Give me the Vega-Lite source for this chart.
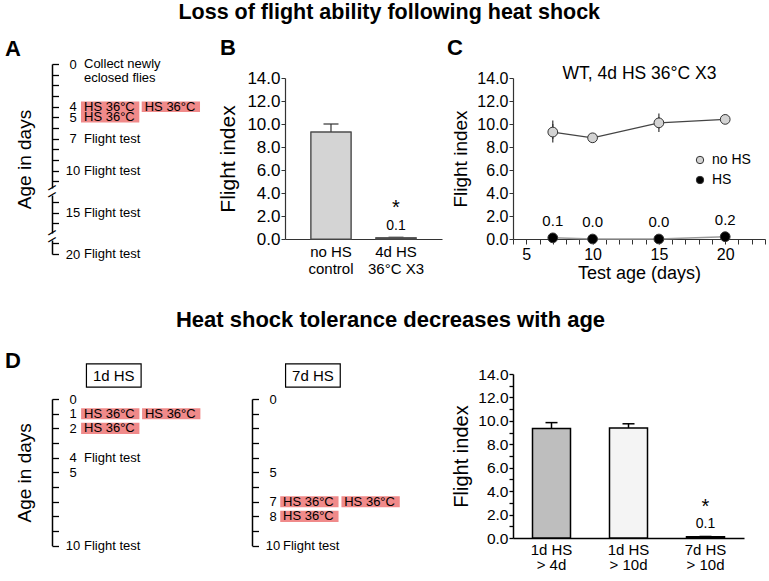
{
  "$schema": "https://vega.github.io/schema/vega-lite/v6.json",
  "padding": {"left": 5, "top": 1, "right": 0, "bottom": 0},
  "background": "white",
  "config": {
    "font": "Liberation Sans",
    "view": {"stroke": null},
    "axis": {"grid": false, "domainColor": "#000", "tickColor": "#000", "labelColor": "#000", "titleColor": "#000", "labelFont": "Liberation Sans", "titleFont": "Liberation Sans", "titleFontWeight": "normal", "labelOverlap": false, "labelBound": false, "labelFlush": false},
    "title": {"font": "Liberation Sans", "color": "#000", "fontWeight": "bold"},
    "text": {"font": "Liberation Sans", "color": "#000"},
    "legend": {"labelFont": "Liberation Sans", "labelColor": "#000"}
  },
  "spacing": 26,
  "resolve": {"scale": {"fill": "independent"}, "legend": {"fill": "independent"}},
  "vconcat": [
    {
      "title": {"text": "Loss of flight ability following heat shock", "fontSize": 21.5, "anchor": "middle", "frame": "bounds", "baseline": "alphabetic", "offset": 0, "dx": 4, "dy": 3.3},
      "spacing": 71,
      "bounds": "flush",
      "resolve": {"scale": {"fill": "independent"}, "legend": {"fill": "independent"}},
      "hconcat": [
        {
          "width": 162, "height": 161,
          "title": {"text": "A", "fontSize": 22, "anchor": "start", "frame": "group", "baseline": "alphabetic", "offset": 0, "dx": -47, "dy": 20},
          "resolve": {"axis": {"y": "independent"}},
          "layer": [
            {
              "data": {"values": [
                {"day": 4, "column": 1, "treatment": "HS 36°C"},
                {"day": 4, "column": 2, "treatment": "HS 36°C"},
                {"day": 5, "column": 1, "treatment": "HS 36°C"}
              ]},
              "mark": {"type": "point", "shape": "M-1,-0.18H1V0.18H-1Z", "filled": true, "size": 3400, "color": "#f08a8a", "opacity": 1, "strokeWidth": 0},
              "encoding": {
                "x": {"field": "column", "type": "ordinal", "scale": {"type": "band", "domain": [1, 2], "range": [29, 148], "paddingInner": 0.04, "paddingOuter": 0}, "axis": null},
                "y": {"field": "day", "type": "quantitative",
                      "scale": {"domain": [0, 11, 14, 16, 19, 20], "range": [-14, 103.3, 124, 145.3, 165.3, 176], "nice": false, "zero": false},
                      "axis": {"orient": "left", "title": "Age in days", "titleFontSize": 19, "titlePadding": 17,
                               "values": [0, 1, 2, 3, 4, 5, 6, 7, 8, 9, 10, 11, 14, 15, 16, 19, 20],
                               "labelExpr": "indexof([0,4,5,7,10,15,20], datum.value) >= 0 ? datum.label : ''",
                               "format": "d", "tickSize": -6.5, "tickWidth": 1.3, "domainWidth": 1.5,
                               "labelPadding": -14, "labelAlign": "center", "labelBaseline": "middle", "labelFontSize": 13,
                               "domainDash": [124, 7, 38, 7, 100]}}
              }
            },
            {
              "data": {"values": [
                {"day": 4, "column": 1, "treatment": "HS 36°C"},
                {"day": 4, "column": 2, "treatment": "HS 36°C"},
                {"day": 5, "column": 1, "treatment": "HS 36°C"}
              ]},
              "mark": {"type": "text", "align": "left", "baseline": "middle", "dx": 3, "fontSize": 13},
              "encoding": {
                "x": {"field": "column", "type": "ordinal", "bandPosition": 0, "axis": null},
                "y": {"field": "day", "type": "quantitative", "axis": null},
                "text": {"field": "treatment"}
              }
            },
            {
              "data": {"values": [
                {"day": 0, "column": 1, "event": "Collect newly\neclosed flies"},
                {"day": 7, "column": 1, "event": "Flight test"},
                {"day": 10, "column": 1, "event": "Flight test"},
                {"day": 15, "column": 1, "event": "Flight test"},
                {"day": 20, "column": 1, "event": "Flight test"}
              ]},
              "mark": {"type": "text", "align": "left", "baseline": "middle", "dx": 3, "fontSize": 13, "lineBreak": "\n", "lineHeight": 14},
              "encoding": {
                "x": {"field": "column", "type": "ordinal", "bandPosition": 0, "axis": null},
                "y": {"field": "day", "type": "quantitative",
                      "axis": {"orient": "left", "title": null, "values": [11.97, 12.99, 17.46, 18.5], "labelExpr": "'─'",
                               "ticks": false, "domain": false, "labelPadding": 0, "labelAlign": "center", "labelBaseline": "middle",
                               "labelAngle": -30, "labelFontSize": 14, "labelFont": "DejaVu Sans"}},
                "text": {"field": "event"}
              }
            }
          ]
        },
        {
          "width": 157, "height": 161,
          "title": {"text": "B", "fontSize": 22, "anchor": "start", "frame": "group", "baseline": "alphabetic", "offset": 0, "dx": -65, "dy": 8},
          "data": {"values": [
            {"condition": "no HS|control", "mean": 9.3, "upper": 10.0, "sig": ""},
            {"condition": "4d HS|36°C X3", "mean": 0.1, "upper": 0.15, "sig": "*"}
          ]},
          "resolve": {"axis": {"y": "independent"}},
          "encoding": {
            "x": {"field": "condition", "type": "nominal", "sort": null, "title": null,
                  "scale": {"paddingInner": 0.385, "paddingOuter": 0.4},
                  "axis": {"labelExpr": "split(datum.label, '|')", "labelAngle": 0, "ticks": false, "labelFontSize": 15, "labelLineHeight": 17, "labelPadding": 5, "domainColor": "#333", "domainWidth": 1.2}}
          },
          "layer": [
            {"mark": {"type": "bar", "fill": "#d4d4d4", "stroke": "#4d4d4d", "strokeWidth": 1.2, "width": 40},
             "encoding": {"y": {"field": "mean", "type": "quantitative", "title": "Flight index",
                                "scale": {"domain": [0, 14], "nice": false},
                                "axis": {"values": [0, 2, 4, 6, 8, 10, 12, 14], "format": ".1f", "tickSize": 4, "labelPadding": 1, "labelFontSize": 17, "titleFontSize": 21, "titlePadding": 8, "domainColor": "#333", "tickColor": "#333", "domainWidth": 1.2}}}},
            {"mark": {"type": "rule", "color": "#333", "strokeWidth": 1.2},
             "encoding": {"y": {"field": "mean", "type": "quantitative", "axis": null}, "y2": {"field": "upper"}}},
            {"mark": {"type": "tick", "color": "#333", "size": 15, "thickness": 1.2, "opacity": 1},
             "encoding": {"y": {"field": "upper", "type": "quantitative", "axis": null}}},
            {"mark": {"type": "bar", "fill": "#d4d4d4", "stroke": "#4d4d4d", "strokeWidth": 1.2, "width": 40},
             "encoding": {"y": {"field": "mean", "type": "quantitative", "axis": null}}},
            {"transform": [{"filter": "datum.sig == '*'"}],
             "mark": {"type": "text", "fontSize": 14, "dy": -12, "baseline": "middle"},
             "encoding": {"y": {"field": "mean", "type": "quantitative", "axis": null}, "text": {"field": "mean", "format": ".1f"}}},
            {"transform": [{"filter": "datum.sig == '*'"}],
             "mark": {"type": "text", "fontSize": 20, "dy": -29.5, "baseline": "middle"},
             "encoding": {"y": {"field": "mean", "type": "quantitative", "axis": null}, "text": {"field": "sig"}}}
          ]
        },
        {
          "width": 252, "height": 161,
          "title": {"text": "C", "fontSize": 22, "anchor": "start", "frame": "group", "baseline": "alphabetic", "offset": 0, "dx": -66, "dy": 13},
          "data": {"values": [
            {"treatment": "no HS", "day": 7, "mean": 9.3, "lower": 8.7, "upper": 10.0},
            {"treatment": "no HS", "day": 10, "mean": 8.8, "lower": 8.7, "upper": 8.9},
            {"treatment": "no HS", "day": 15, "mean": 10.1, "lower": 9.6, "upper": 10.6},
            {"treatment": "no HS", "day": 20, "mean": 10.4, "lower": 10.3, "upper": 10.5},
            {"treatment": "HS", "day": 7, "mean": 0.1, "lower": 0.1, "upper": 0.1},
            {"treatment": "HS", "day": 10, "mean": 0.0, "lower": 0.0, "upper": 0.0},
            {"treatment": "HS", "day": 15, "mean": 0.0, "lower": 0.0, "upper": 0.0},
            {"treatment": "HS", "day": 20, "mean": 0.2, "lower": 0.2, "upper": 0.2}
          ]},
          "resolve": {"axis": {"x": "independent", "y": "independent"}},
          "layer": [
            {"mark": {"type": "rule", "color": "#333", "strokeWidth": 1.2},
             "encoding": {
               "x": {"field": "day", "type": "quantitative", "title": "Test age (days)",
                     "scale": {"domain": [4, 23], "nice": false, "zero": false},
                     "axis": {"values": [4, 5, 6, 7, 8, 9, 10, 11, 12, 13, 14, 15, 16, 17, 18, 19, 20, 21, 22, 23],
                              "labelExpr": "datum.value % 5 == 0 ? datum.label : ''", "tickSize": 5, "labelFontSize": 16, "titleFontSize": 18, "labelPadding": 2, "titlePadding": 2, "domainColor": "#333", "tickColor": "#333", "domainWidth": 1.2}},
               "y": {"field": "lower", "type": "quantitative", "title": "Flight index",
                     "scale": {"domain": [0, 14], "nice": false},
                     "axis": {"values": [0, 2, 4, 6, 8, 10, 12, 14], "format": ".1f", "tickSize": 4, "labelPadding": 1, "labelFontSize": 16, "titleFontSize": 19, "titlePadding": 6, "domainColor": "#333", "tickColor": "#333", "domainWidth": 1.2}},
               "y2": {"field": "upper"}}},
            {"mark": {"type": "tick", "color": "#333", "size": 7, "thickness": 1.2, "opacity": 1},
             "encoding": {"x": {"field": "day", "type": "quantitative", "axis": null}, "y": {"field": "upper", "type": "quantitative", "axis": null}}},
            {"mark": {"type": "tick", "color": "#333", "size": 7, "thickness": 1.2, "opacity": 1},
             "encoding": {"x": {"field": "day", "type": "quantitative", "axis": null}, "y": {"field": "lower", "type": "quantitative", "axis": null}}},
            {"transform": [{"filter": "datum.treatment == 'no HS'"}],
             "mark": {"type": "line", "strokeWidth": 1.2, "color": "#444444"},
             "encoding": {"x": {"field": "day", "type": "quantitative", "axis": null}, "y": {"field": "mean", "type": "quantitative", "axis": null}}},
            {"transform": [{"filter": "datum.treatment == 'HS'"}],
             "mark": {"type": "line", "strokeWidth": 1.5, "color": "#9a9a9a"},
             "encoding": {"x": {"field": "day", "type": "quantitative", "axis": null}, "y": {"field": "mean", "type": "quantitative", "axis": null}}},
            {"mark": {"type": "point", "filled": true, "size": 95, "stroke": "#333", "strokeWidth": 1, "opacity": 1},
             "encoding": {"x": {"field": "day", "type": "quantitative", "axis": null},
                          "y": {"field": "mean", "type": "quantitative", "axis": null},
                          "fill": {"field": "treatment", "type": "nominal", "scale": {"domain": ["no HS", "HS"], "range": ["#d3d3d3", "#000000"]},
                                   "legend": {"title": null, "orient": "none", "legendX": 180, "legendY": 75, "symbolType": "circle", "symbolSize": 55, "symbolStrokeColor": "#333", "symbolStrokeWidth": 1, "labelFontSize": 14, "labelOffset": 5, "rowPadding": 6, "padding": 0}}}},
            {"transform": [{"filter": "datum.treatment == 'HS'"}],
             "mark": {"type": "text", "fontSize": 15, "dy": -17, "baseline": "middle"},
             "encoding": {"x": {"field": "day", "type": "quantitative",
                                "axis": {"orient": "top", "title": "WT, 4d HS 36°C X3", "titleFontSize": 17.5, "titleFontWeight": "normal", "titlePadding": -4, "domain": false, "ticks": false, "labels": false}},
                          "y": {"field": "mean", "type": "quantitative", "axis": null}, "text": {"field": "mean", "format": ".1f"}}}
          ]
        }
      ]
    },
    {
      "title": {"text": "Heat shock tolerance decreases with age", "fontSize": 22, "anchor": "middle", "frame": "bounds", "baseline": "alphabetic", "offset": 0, "dx": 16, "dy": -1},
      "spacing": 60,
      "bounds": "flush",
      "resolve": {"scale": {"fill": "independent"}, "legend": {"fill": "independent"}},
      "hconcat": [
        {
          "width": 140, "height": 164,
          "title": {"text": "D", "fontSize": 22, "anchor": "start", "frame": "group", "baseline": "alphabetic", "offset": 0, "dx": -47, "dy": 28.5},
          "resolve": {"axis": {"y": "independent"}},
          "layer": [
            {
              "data": {"values": [
                {"day": 1, "column": 1, "treatment": "HS 36°C"},
                {"day": 1, "column": 2, "treatment": "HS 36°C"},
                {"day": 2, "column": 1, "treatment": "HS 36°C"}
              ]},
              "mark": {"type": "point", "shape": "M-1,-0.19H1V0.19H-1Z", "filled": true, "size": 3400, "color": "#f08a8a", "opacity": 1, "strokeWidth": 0},
              "encoding": {
                "x": {"field": "column", "type": "ordinal", "scale": {"type": "band", "domain": [1, 2], "range": [29, 148.5], "paddingInner": 0.04, "paddingOuter": 0}, "axis": null},
                "y": {"field": "day", "type": "quantitative",
                      "scale": {"domain": [0, 10], "range": [25, 171.7], "nice": false, "zero": false},
                      "axis": {"orient": "left", "title": "Age in days", "titleFontSize": 19, "titlePadding": 17,
                               "values": [0, 1, 2, 3, 4, 5, 6, 7, 8, 9, 10],
                               "labelExpr": "indexof([0,1,2,4,5,10], datum.value) >= 0 ? datum.label : ''",
                               "format": "d", "tickSize": -6.5, "tickWidth": 1.3, "domainWidth": 1.5,
                               "labelPadding": -14, "labelAlign": "center", "labelBaseline": "middle", "labelFontSize": 13}}
              }
            },
            {
              "data": {"values": [
                {"day": 1, "column": 1, "treatment": "HS 36°C"},
                {"day": 1, "column": 2, "treatment": "HS 36°C"},
                {"day": 2, "column": 1, "treatment": "HS 36°C"}
              ]},
              "mark": {"type": "text", "align": "left", "baseline": "middle", "dx": 3, "fontSize": 13},
              "encoding": {"x": {"field": "column", "type": "ordinal", "bandPosition": 0, "axis": null}, "y": {"field": "day", "type": "quantitative", "axis": null}, "text": {"field": "treatment"}}
            },
            {
              "data": {"values": [
                {"day": 4, "column": 1, "event": "Flight test"},
                {"day": 10, "column": 1, "event": "Flight test"}
              ]},
              "mark": {"type": "text", "align": "left", "baseline": "middle", "dx": 3, "fontSize": 13},
              "encoding": {"x": {"field": "column", "type": "ordinal", "bandPosition": 0, "axis": null}, "y": {"field": "day", "type": "quantitative", "axis": null}, "text": {"field": "event"}}
            },
            {
              "data": {"values": [{"header": "1d HS", "column": 1}]},
              "mark": {"type": "point", "shape": "M-1,-0.426H1V0.426H-1Z", "size": 2990, "filled": false, "stroke": "#000", "strokeWidth": 1.2, "opacity": 1},
              "encoding": {"x": {"field": "column", "type": "ordinal", "bandPosition": 0.56, "axis": null}, "y": {"datum": -1.6, "type": "quantitative", "axis": null}}
            },
            {
              "data": {"values": [{"header": "1d HS", "column": 1}]},
              "mark": {"type": "text", "fontSize": 15, "baseline": "middle"},
              "encoding": {"x": {"field": "column", "type": "ordinal", "bandPosition": 0.56, "axis": null}, "y": {"datum": -1.6, "type": "quantitative", "axis": null}, "text": {"field": "header"}}
            }
          ]
        },
        {
          "width": 201, "height": 164,
          "resolve": {"axis": {"y": "independent"}},
          "layer": [
            {
              "data": {"values": [
                {"day": 7, "column": 1, "treatment": "HS 36°C"},
                {"day": 7, "column": 2, "treatment": "HS 36°C"},
                {"day": 8, "column": 1, "treatment": "HS 36°C"}
              ]},
              "mark": {"type": "point", "shape": "M-1,-0.19H1V0.19H-1Z", "filled": true, "size": 3400, "color": "#f08a8a", "opacity": 1, "strokeWidth": 0},
              "encoding": {
                "x": {"field": "column", "type": "ordinal", "scale": {"type": "band", "domain": [1, 2], "range": [28, 148], "paddingInner": 0.04, "paddingOuter": 0}, "axis": null},
                "y": {"field": "day", "type": "quantitative",
                      "scale": {"domain": [0, 10], "range": [25, 171.7], "nice": false, "zero": false},
                      "axis": {"orient": "left", "title": null,
                               "values": [0, 1, 2, 3, 4, 5, 6, 7, 8, 9, 10],
                               "labelExpr": "indexof([0,5,7,8,10], datum.value) >= 0 ? datum.label : ''",
                               "format": "d", "tickSize": -6.5, "tickWidth": 1.3, "domainWidth": 1.5,
                               "labelPadding": -14, "labelAlign": "center", "labelBaseline": "middle", "labelFontSize": 13}}
              }
            },
            {
              "data": {"values": [
                {"day": 7, "column": 1, "treatment": "HS 36°C"},
                {"day": 7, "column": 2, "treatment": "HS 36°C"},
                {"day": 8, "column": 1, "treatment": "HS 36°C"}
              ]},
              "mark": {"type": "text", "align": "left", "baseline": "middle", "dx": 3, "fontSize": 13},
              "encoding": {"x": {"field": "column", "type": "ordinal", "bandPosition": 0, "axis": null}, "y": {"field": "day", "type": "quantitative", "axis": null}, "text": {"field": "treatment"}}
            },
            {
              "data": {"values": [
                {"day": 10, "column": 1, "event": "Flight test"}
              ]},
              "mark": {"type": "text", "align": "left", "baseline": "middle", "dx": 3, "fontSize": 13},
              "encoding": {"x": {"field": "column", "type": "ordinal", "bandPosition": 0, "axis": null}, "y": {"field": "day", "type": "quantitative", "axis": null}, "text": {"field": "event"}}
            },
            {
              "data": {"values": [{"header": "7d HS", "column": 1}]},
              "mark": {"type": "point", "shape": "M-1,-0.426H1V0.426H-1Z", "size": 2990, "filled": false, "stroke": "#000", "strokeWidth": 1.2, "opacity": 1},
              "encoding": {"x": {"field": "column", "type": "ordinal", "bandPosition": 0.56, "axis": null}, "y": {"datum": -1.6, "type": "quantitative", "axis": null}}
            },
            {
              "data": {"values": [{"header": "7d HS", "column": 1}]},
              "mark": {"type": "text", "fontSize": 15, "baseline": "middle"},
              "encoding": {"x": {"field": "column", "type": "ordinal", "bandPosition": 0.56, "axis": null}, "y": {"datum": -1.6, "type": "quantitative", "axis": null}, "text": {"field": "header"}}
            }
          ]
        },
        {
          "width": 231, "height": 164,
          "data": {"values": [
            {"condition": "1d HS|> 4d", "mean": 9.35, "upper": 9.85, "sig": ""},
            {"condition": "1d HS|> 10d", "mean": 9.4, "upper": 9.75, "sig": ""},
            {"condition": "7d HS|> 10d", "mean": 0.1, "upper": 0.13, "sig": "*"}
          ]},
          "resolve": {"axis": {"y": "independent"}},
          "encoding": {
            "x": {"field": "condition", "type": "nominal", "sort": null, "title": null,
                  "scale": {"paddingInner": 0.506, "paddingOuter": 0.253},
                  "axis": {"labelExpr": "split(datum.label, '|')", "labelAngle": 0, "ticks": false, "labelFontSize": 15, "labelLineHeight": 15, "labelPadding": 4, "domainWidth": 1.5}}
          },
          "layer": [
            {"mark": {"type": "rule", "color": "#000", "strokeWidth": 1.5},
             "encoding": {"y": {"field": "mean", "type": "quantitative", "title": "Flight index",
                                "scale": {"domain": [0, 14], "nice": false},
                                "axis": {"values": [0, 1, 2, 3, 4, 5, 6, 7, 8, 9, 10, 11, 12, 13, 14], "labelExpr": "datum.value % 2 == 0 ? format(datum.value, '.1f') : ''", "tickSize": 4, "labelPadding": 1, "labelFontSize": 15.5, "titleFontSize": 20, "titlePadding": 6, "domainWidth": 1.5, "tickWidth": 1.3}},
                          "y2": {"field": "upper"}}},
            {"mark": {"type": "tick", "color": "#000", "size": 12, "thickness": 1.5, "opacity": 1},
             "encoding": {"y": {"field": "upper", "type": "quantitative", "axis": null}}},
            {"mark": {"type": "bar", "stroke": "#000", "strokeWidth": 1.5, "width": 38},
             "encoding": {"y": {"field": "mean", "type": "quantitative", "axis": null},
                          "fill": {"field": "condition", "type": "nominal", "sort": null, "scale": {"domain": ["1d HS|> 4d", "1d HS|> 10d", "7d HS|> 10d"], "range": ["#bebebe", "#f4f4f4", "#ffffff"]}, "legend": null}}},
            {"transform": [{"filter": "datum.sig == '*'"}],
             "mark": {"type": "text", "fontSize": 14, "dy": -13, "baseline": "middle"},
             "encoding": {"y": {"field": "mean", "type": "quantitative", "axis": null}, "text": {"field": "mean", "format": ".1f"}}},
            {"transform": [{"filter": "datum.sig == '*'"}],
             "mark": {"type": "text", "fontSize": 20, "dy": -30, "baseline": "middle"},
             "encoding": {"y": {"field": "mean", "type": "quantitative", "axis": null}, "text": {"field": "sig"}}}
          ]
        }
      ]
    }
  ]
}
